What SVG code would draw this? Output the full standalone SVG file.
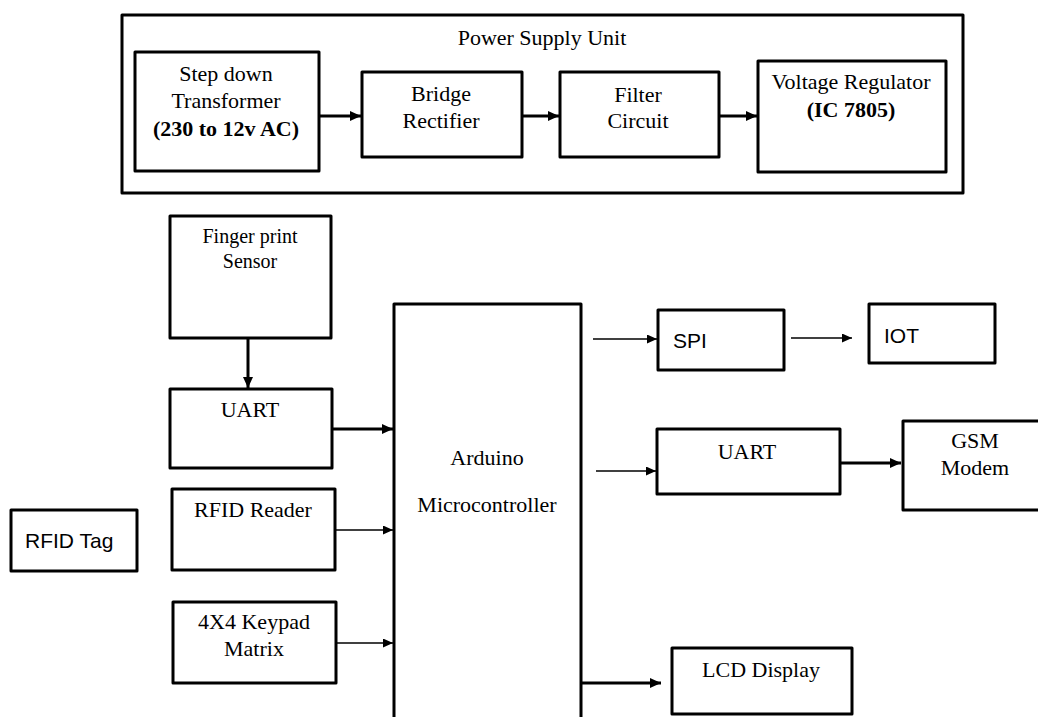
<svg xmlns="http://www.w3.org/2000/svg" width="1038" height="717" viewBox="0 0 1038 717">
<defs>
<style>
.box{fill:#fff;stroke:#000;stroke-width:3;stroke-linejoin:round}
.t{font-family:"Liberation Serif","Times New Roman",serif;font-size:22px;fill:#000;text-anchor:middle}
.b{font-weight:bold}
.a{font-family:"Liberation Sans",Arial,sans-serif;font-size:21px;fill:#000}
.thick{stroke:#000;stroke-width:3;fill:none}
.thin{stroke:#000;stroke-width:1.3;fill:none}
</style>
<marker id="ah" markerUnits="userSpaceOnUse" markerWidth="12" markerHeight="10" refX="11" refY="5" orient="auto">
<path d="M0,0 L11,5 L0,10 Z" fill="#000"/>
</marker>
<marker id="ahs" markerUnits="userSpaceOnUse" markerWidth="11" markerHeight="9" refX="10" refY="4.5" orient="auto">
<path d="M0,0 L10,4.5 L0,9 Z" fill="#000"/>
</marker>
</defs>
<rect width="1038" height="717" fill="#fff"/>

<g id="psu">
<rect class="box" x="122" y="15" width="841" height="178"/>
<text class="t" x="542" y="45">Power Supply Unit</text>
</g>
<g id="transformer">
<rect class="box" x="135" y="52" width="184" height="119"/>
<text class="t" x="226" y="81">Step down</text>
<text class="t" x="226" y="108">Transformer</text>
<text class="t b" x="226" y="136">(230 to 12v AC)</text>
</g>
<g id="bridge">
<rect class="box" x="362" y="72" width="160" height="85"/>
<text class="t" x="441" y="101">Bridge</text>
<text class="t" x="441" y="128">Rectifier</text>
</g>
<g id="filter">
<rect class="box" x="560" y="72" width="159" height="85"/>
<text class="t" x="638" y="102">Filter</text>
<text class="t" x="638" y="128">Circuit</text>
</g>
<g id="regulator">
<rect class="box" x="758" y="61" width="188" height="111"/>
<text class="t" x="851" y="89">Voltage Regulator</text>
<text class="t b" x="851" y="117">(IC 7805)</text>
</g>
<g id="fingerprint">
<rect class="box" x="170" y="216" width="161" height="122"/>
<text class="t" x="250" y="243" style="font-size:20px">Finger print</text>
<text class="t" x="250" y="268" style="font-size:20px">Sensor</text>
</g>
<g id="uart1">
<rect class="box" x="170" y="389" width="162" height="79"/>
<text class="t" x="250" y="417">UART</text>
</g>
<g id="rfidreader">
<rect class="box" x="172" y="489" width="163" height="81"/>
<text class="t" x="253" y="517">RFID Reader</text>
</g>
<g id="keypad">
<rect class="box" x="173" y="602" width="163" height="81"/>
<text class="t" x="254" y="629">4X4 Keypad</text>
<text class="t" x="254" y="656">Matrix</text>
</g>
<g id="rfidtag">
<rect class="box" x="11" y="510" width="126" height="61"/>
<text class="a" x="25" y="548">RFID Tag</text>
</g>
<g id="arduino">
<rect class="box" x="394" y="304" width="187" height="440"/>
<text class="t" x="487" y="465">Arduino</text>
<text class="t" x="487" y="512">Microcontroller</text>
</g>
<g id="spi">
<rect class="box" x="658" y="310" width="126" height="60"/>
<text class="a" x="673" y="348">SPI</text>
</g>
<g id="iot">
<rect class="box" x="869" y="304" width="126" height="59"/>
<text class="a" x="884" y="343">IOT</text>
</g>
<g id="uart2">
<rect class="box" x="657" y="429" width="183" height="65"/>
<text class="t" x="747" y="459">UART</text>
</g>
<g id="gsm">
<rect class="box" x="903" y="421" width="145" height="89"/>
<text class="t" x="975" y="448">GSM</text>
<text class="t" x="975" y="475">Modem</text>
</g>
<g id="lcd">
<rect class="box" x="672" y="648" width="180" height="66"/>
<text class="t" x="761" y="677">LCD Display</text>
</g>

<g id="connectors">
<line class="thick" x1="319" y1="116" x2="361" y2="116" marker-end="url(#ah)"/>
<line class="thick" x1="522" y1="116" x2="559" y2="116" marker-end="url(#ah)"/>
<line class="thick" x1="719" y1="116" x2="757" y2="116" marker-end="url(#ah)"/>
<line class="thick" x1="248" y1="338" x2="248" y2="388" marker-end="url(#ah)"/>
<line class="thick" x1="332" y1="429" x2="393" y2="429" marker-end="url(#ah)"/>
<line class="thin" x1="335" y1="530" x2="393" y2="530" marker-end="url(#ahs)"/>
<line class="thin" x1="336" y1="643" x2="393" y2="643" marker-end="url(#ahs)"/>
<line class="thin" x1="593" y1="339" x2="657" y2="339" marker-end="url(#ahs)"/>
<line class="thin" x1="791" y1="338" x2="852" y2="338" marker-end="url(#ahs)"/>
<line class="thin" x1="596" y1="471" x2="656" y2="471" marker-end="url(#ahs)"/>
<line class="thick" x1="840" y1="463" x2="901" y2="463" marker-end="url(#ah)"/>
<line class="thick" x1="581" y1="683" x2="661" y2="683" marker-end="url(#ah)"/>
</g>
</svg>
